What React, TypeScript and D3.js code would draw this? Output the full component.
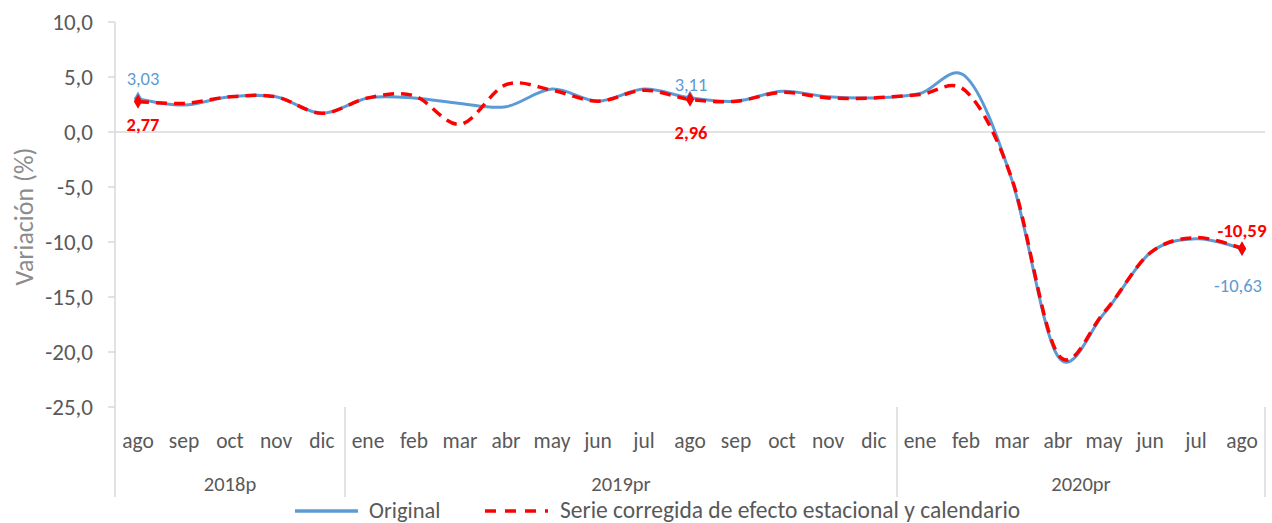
import React from "react";
import * as d3 from "d3";

const months = ["ago", "sep", "oct", "nov", "dic", "ene", "feb", "mar", "abr", "may", "jun", "jul", "ago", "sep", "oct", "nov", "dic", "ene", "feb", "mar", "abr", "may", "jun", "jul", "ago"];
const years = ["2018p", "2019pr", "2020pr"];
const yearCounts = [5, 12, 8];
const original = [3.03, 2.45, 3.2, 3.2, 1.7, 3.1, 3.1, 2.6, 2.3, 3.9, 2.8, 3.9, 3.11, 2.8, 3.7, 3.2, 3.1, 3.5, 5.0, -4.4, -20.4, -16.5, -11.0, -9.7, -10.63];
const corrected = [2.77, 2.6, 3.2, 3.2, 1.7, 3.1, 3.3, 0.7, 4.3, 3.8, 2.8, 3.8, 2.96, 2.8, 3.6, 3.1, 3.1, 3.4, 3.7, -4.3, -20.2, -16.4, -11.0, -9.6, -10.59];
const yTicks = [10, 5, 0, -5, -10, -15, -20, -25];
const labelled = [0, 12, 24];

const W = 1272;
const H = 523;
const FONT = "Carlito, Calibri, Lato, 'Liberation Sans', sans-serif";
const BLUE = "#5b9bd5";
const RED = "#ff0000";
const GREY = "#595959";

const fmt = (v: number, d: number) => v.toFixed(d).replace(".", ",");

export default function App() {
  const x = d3.scaleBand<number>().domain(d3.range(months.length)).range([115, 1265]).padding(0);
  const bw = x.bandwidth();
  const cx = (i: number) => (x(i) as number) + bw / 2;
  const y = d3.scaleLinear().domain([-25, 10]).range([407, 22]);

  const line = d3
    .line<number>()
    .x((_, i) => cx(i))
    .y((d) => y(d))
    .curve(d3.curveCardinal.tension(0));

  const diamond = d3.symbol().type(d3.symbolDiamond).size(60)() as string;

  // group boundaries for the year separators
  const bounds: number[] = [0];
  yearCounts.forEach((c, i) => bounds.push(bounds[i] + c));

  return (
    <svg width={W} height={H} style={{ position: "absolute", left: 0, top: 0, background: "#fff" }} fontFamily={FONT}>
      {/* zero line */}
      <line x1={115} x2={1265} y1={y(0)} y2={y(0)} stroke="#d9d9d9" strokeWidth={1.5} />
      {/* y axis */}
      <line x1={115} x2={115} y1={y(10)} y2={497} stroke="#d9d9d9" strokeWidth={1.5} />
      {yTicks.map((t) => (
        <g key={t}>
          <line x1={108} x2={115} y1={y(t)} y2={y(t)} stroke="#d9d9d9" strokeWidth={1.5} />
          <text x={93} y={y(t) + 8} textAnchor="end" fontSize={23} fill={GREY}>
            {fmt(t, 1)}
          </text>
        </g>
      ))}
      <text
        transform={`translate(33,${(y(10) + y(-25)) / 2 + 2}) rotate(-90)`}
        textAnchor="middle"
        fontSize={26}
        fill="#8c8c8c"
      >
        Variación (%)
      </text>

      {/* x axis categories */}
      {months.map((m, i) => (
        <text key={i} x={cx(i)} y={448} textAnchor="middle" fontSize={21.5} fill={GREY}>
          {m}
        </text>
      ))}
      {bounds.slice(1).map((b, i) => (
        <line key={i} x1={x(b - 1)! + bw} x2={x(b - 1)! + bw} y1={407} y2={497} stroke="#d9d9d9" strokeWidth={1.5} />
      ))}
      {years.map((yr, i) => (
        <text
          key={yr}
          x={(x(bounds[i])! + x(bounds[i + 1] - 1)! + bw) / 2}
          y={491}
          textAnchor="middle"
          fontSize={20.5}
          fill={GREY}
        >
          {yr}
        </text>
      ))}

      {/* series */}
      <path d={line(original) as string} fill="none" stroke={BLUE} strokeWidth={3} strokeLinejoin="round" />
      <path d={line(corrected) as string} fill="none" stroke={RED} strokeWidth={3.5} strokeDasharray="11,7" />

      {labelled.map((i) => (
        <g key={i}>
          <path d={diamond} transform={`translate(${cx(i)},${y(original[i])})`} fill={BLUE} />
          <path d={diamond} transform={`translate(${cx(i)},${y(corrected[i])})`} fill={RED} />
        </g>
      ))}

      {/* data labels */}
      <text x={cx(0) + 5} y={85} textAnchor="middle" fontSize={18.5} fill={BLUE}>{fmt(original[0], 2)}</text>
      <text x={cx(0) + 5} y={131} textAnchor="middle" fontSize={18.5} fontWeight="bold" fill={RED}>{fmt(corrected[0], 2)}</text>
      <text x={cx(12) + 1} y={91} textAnchor="middle" fontSize={18.5} fill={BLUE}>{fmt(original[12], 2)}</text>
      <text x={cx(12) + 1} y={139} textAnchor="middle" fontSize={18.5} fontWeight="bold" fill={RED}>{fmt(corrected[12], 2)}</text>
      <text x={cx(24)} y={237} textAnchor="middle" fontSize={19} fontWeight="bold" fill={RED}>{fmt(corrected[24], 2)}</text>
      <text x={cx(24) - 4} y={292} textAnchor="middle" fontSize={18.5} fill={BLUE}>{fmt(original[24], 2)}</text>

      {/* legend */}
      <line x1={295} x2={358} y1={511} y2={511} stroke={BLUE} strokeWidth={3.5} />
      <text x={369} y={518} fontSize={22.5} fill={GREY}>Original</text>
      <line x1={485} x2={548} y1={511} y2={511} stroke={RED} strokeWidth={3.5} strokeDasharray="11,9" />
      <text x={560} y={518} fontSize={23.5} fill={GREY}>Serie corregida de efecto estacional y calendario</text>
    </svg>
  );
}
